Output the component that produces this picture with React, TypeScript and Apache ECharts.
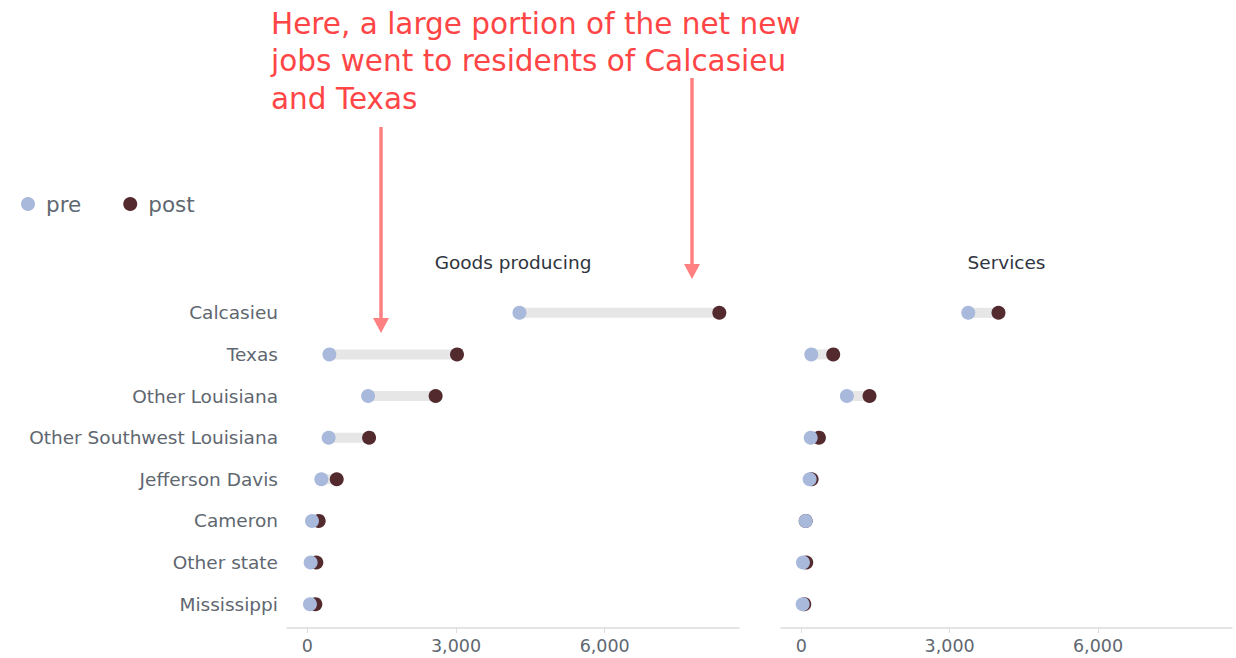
import React, { useEffect, useRef } from "react";
import * as echarts from "echarts";

const categories = [
  "Calcasieu",
  "Texas",
  "Other Louisiana",
  "Other Southwest Louisiana",
  "Jefferson Davis",
  "Cameron",
  "Other state",
  "Mississippi",
];
const goodsPre = [4280, 445, 1226, 430, 283, 94, 67, 53];
const goodsPost = [8313, 3020, 2589, 1246, 593, 229, 182, 162];
const servicesPre = [3377, 202, 922, 190, 169, 89, 34, 28];
const servicesPost = [3988, 646, 1380, 357, 209, 89, 101, 61];
const tickValues = [0, 3000, 6000];
const panelTitles = ["Goods producing", "Services"];
const annotation = "Here, a large portion of the net new\njobs went to residents of Calcasieu\nand Texas";

const PRE = "#a8b9dc";
const POST = "#532b2f";
const FONT = "'DejaVu Sans', sans-serif";

export default function App() {
  const ref = useRef<HTMLDivElement>(null);
  useEffect(() => {
    if (!ref.current) return;
    const chart = echarts.init(ref.current, undefined, { renderer: "svg" });
    const grids = [
      { left: 287, top: 292, width: 452, height: 333 },
      { left: 781, top: 292, width: 451, height: 333 },
    ];
    const xAxes = grids.map((_, i) => ({
      type: "value",
      gridIndex: i,
      min: -410,
      max: 8710,
      offset: 3,
      splitLine: { show: false },
      axisLine: { show: true, lineStyle: { color: "#dcdcdc", width: 1.5 } },
      axisTick: { show: true, customValues: tickValues, length: 5, lineStyle: { color: "#dcdcdc" } },
      axisLabel: {
        customValues: tickValues,
        color: "#606770",
        fontSize: 17.5,
        fontFamily: FONT,
        margin: 9,
        formatter: (v: number) => v.toLocaleString("en-US"),
      },
    }));
    const yAxes = grids.map((_, i) => ({
      type: "category",
      gridIndex: i,
      data: categories,
      inverse: true,
      axisLine: { show: false },
      axisTick: { show: false },
      axisLabel: {
        show: i === 0,
        color: "#606770",
        fontSize: 18.5,
        fontFamily: FONT,
        margin: 9,
      },
    }));
    const panels = [
      { pre: goodsPre, post: goodsPost },
      { pre: servicesPre, post: servicesPost },
    ];
    const series: any[] = [];
    panels.forEach((p, i) => {
      series.push({
        type: "custom",
        xAxisIndex: i,
        yAxisIndex: i,
        silent: true,
        z: 1,
        encode: { x: [0, 1], y: 2 },
        data: categories.map((_, k) => [p.pre[k], p.post[k], k]),
        renderItem: (params: any, api: any) => {
          const a = api.coord([api.value(0), api.value(2)]);
          const b = api.coord([api.value(1), api.value(2)]);
          const x0 = Math.min(a[0], b[0]);
          return {
            type: "rect",
            shape: { x: x0, y: a[1] - 5, width: Math.abs(b[0] - a[0]), height: 10 },
            style: { fill: "#e6e6e6" },
          };
        },
      });
      series.push({
        name: "post",
        type: "scatter",
        xAxisIndex: i,
        yAxisIndex: i,
        symbolSize: 14,
        z: 2,
        itemStyle: { color: POST, opacity: 1 },
        data: categories.map((c, k) => [p.post[k], c]),
      });
      series.push({
        name: "pre",
        type: "scatter",
        xAxisIndex: i,
        yAxisIndex: i,
        symbolSize: 14,
        z: 3,
        itemStyle: { color: PRE, opacity: 1 },
        data: categories.map((c, k) => [p.pre[k], c]),
      });
    });

    const arrow = (x: number, y1: number, y2: number) => [
      {
        type: "line",
        shape: { x1: x, y1, x2: x, y2: y2 - 14 },
        style: { stroke: "#ff8080", lineWidth: 3.5 },
      },
      {
        type: "polygon",
        shape: { points: [[x - 8, y2 - 15], [x + 8, y2 - 15], [x, y2]] },
        style: { fill: "#ff8080" },
      },
    ];

    chart.setOption({
      animation: false,
      textStyle: { fontFamily: FONT },
      legend: {
        left: 16,
        top: 188,
        icon: "circle",
        itemWidth: 14,
        itemHeight: 14,
        itemGap: 42,
        data: ["pre", "post"],
        textStyle: { color: "#606770", fontSize: 21.5, fontFamily: FONT, padding: [0, 0, 0, 6] },
      },
      grid: grids,
      xAxis: xAxes,
      yAxis: yAxes,
      series,
      graphic: [
        ...panelTitles.map((t, i) => ({
          type: "text",
          x: grids[i].left + grids[i].width / 2,
          y: 262,
          style: {
            text: t,
            fill: "#2f3540",
            font: `500 18.5px ${FONT}`,
            align: "center",
            verticalAlign: "middle",
          },
        })),
        {
          type: "text",
          x: 271,
          y: 5,
          style: {
            text: annotation,
            fill: "#ff4545",
            font: `29.5px ${FONT}`,
            lineHeight: 37.5,
            align: "left",
            verticalAlign: "top",
          },
        },
        ...arrow(381, 127, 333),
        ...arrow(692, 78, 279),
      ],
    });
    return () => chart.dispose();
  }, []);
  return <div ref={ref} style={{ width: 1236, height: 658, position: "absolute", left: 0, top: 0 }} />;
}
